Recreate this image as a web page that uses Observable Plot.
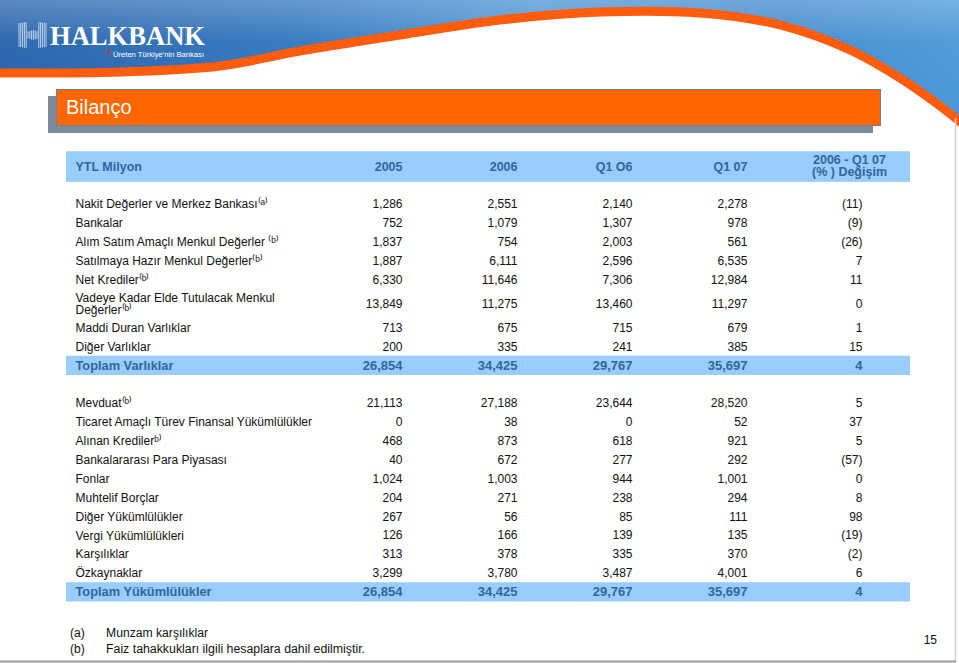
<!DOCTYPE html>
<html>
<head>
<meta charset="utf-8">
<script src="https://cdn.jsdelivr.net/npm/d3@7"></script>
<script src="https://cdn.jsdelivr.net/npm/@observablehq/plot@0.6"></script>
<style>
html, body { margin: 0; padding: 0; background: #fff; }
#page { position: relative; width: 959px; height: 663px; overflow: hidden; background: #fff;
  font-family: "Liberation Sans", Arial, sans-serif; }
#deco { position: absolute; left: 0; top: 0; }
#title { position: absolute; left: 56px; top: 89px; width: 825px; height: 37px; box-sizing: border-box;
  background: #ff6600; border: 1px solid #70808f; box-shadow: -8px 7px 0 #7d8a97;
  color: #fff; font-size: 20px; line-height: 35px; padding-left: 9px; }
#table { position: absolute; left: 0; top: 140px; }
</style>
</head>
<body>
<div id="page">
  <div id="deco"></div>
  <div id="title">Bilanço</div>
  <div id="table"></div>
</div>
<script>
// ---------------- data ----------------
const columns = ["2005", "2006", "Q1 O6", "Q1 07"];
const changeHeader = "2006 - Q1 07\n(% ) Değişim";
const unitLabel = "YTL Milyon";

const assetItems = [
  "Nakit Değerler ve Merkez Bankası",
  "Bankalar",
  "Alım Satım Amaçlı Menkul Değerler",
  "Satılmaya Hazır Menkul Değerler",
  "Net Krediler",
  "Vadeye Kadar Elde Tutulacak Menkul\nDeğerler",
  "Maddi Duran Varlıklar",
  "Diğer Varlıklar"
];
const assetNotes = ["(a)", "", " (b)", "(b)", "(b)", "(b)", "", ""];
const assets2005 = [1286, 752, 1837, 1887, 6330, 13849, 713, 200];
const assets2006 = [2551, 1079, 754, 6111, 11646, 11275, 675, 335];
const assetsQ106 = [2140, 1307, 2003, 2596, 7306, 13460, 715, 241];
const assetsQ107 = [2278, 978, 561, 6535, 12984, 11297, 679, 385];
const assetsChange = [-11, -9, -26, 7, 11, 0, 1, 15];
const assetsTotalLabel = "Toplam Varlıklar";
const assetsTotal = [26854, 34425, 29767, 35697];
const assetsTotalChange = 4;

const liabilityItems = [
  "Mevduat",
  "Ticaret Amaçlı Türev Finansal Yükümlülükler",
  "Alınan Krediler",
  "Bankalararası Para Piyasası",
  "Fonlar",
  "Muhtelif Borçlar",
  "Diğer Yükümlülükler",
  "Vergi Yükümlülükleri",
  "Karşılıklar",
  "Özkaynaklar"
];
const liabilityNotes = ["(b)", "", "b)", "", "", "", "", "", "", ""];
const liab2005 = [21113, 0, 468, 40, 1024, 204, 267, 126, 313, 3299];
const liab2006 = [27188, 38, 873, 672, 1003, 271, 56, 166, 378, 3780];
const liabQ106 = [23644, 0, 618, 277, 944, 238, 85, 139, 335, 3487];
const liabQ107 = [28520, 52, 921, 292, 1001, 294, 111, 135, 370, 4001];
const liabChange = [5, 37, 5, -57, 0, 8, 98, -19, -2, 6];
const liabTotalLabel = "Toplam Yükümlülükler";
const liabTotal = [26854, 34425, 29767, 35697];
const liabTotalChange = 4;

const footnoteMarks = ["(a)", "(b)"];
const footnoteTexts = ["Munzam karşılıklar", "Faiz tahakkukları ilgili  hesaplara dahil edilmiştir."];
const pageNumber = "15";

// ---------------- build table rows ----------------
const fmt = d3.format(",");
const fmtChg = v => v < 0 ? `(${-v})` : String(v);
const colKeys = [...columns, "chg"];
const supMap = {"(": "\u207D", ")": "\u207E", "a": "\u1D43", "b": "\u1D47", " ": " "};
const sup = s => Array.from(s).map(c => supMap[c] ?? c).join("");

const rows = [];
rows.push({kind: "header", label: unitLabel, h: 1});
rows.push({kind: "spacer", h: 1});
function addSection(items, notes, series, chg, totalLabel, totalVals, totalChg) {
  items.forEach((label, i) => rows.push({
    kind: "item", label: label + sup(notes[i]),
    vals: series.map(s => s[i]), chg: chg[i],
    h: label.includes("\n") ? 1.55 : 1
  }));
  rows.push({kind: "total", label: totalLabel, vals: totalVals, chg: totalChg, h: 1});
}
addSection(assetItems, assetNotes, [assets2005, assets2006, assetsQ106, assetsQ107], assetsChange,
  assetsTotalLabel, assetsTotal, assetsTotalChange);
rows.push({kind: "spacer", h: 1});
addSection(liabilityItems, liabilityNotes, [liab2005, liab2006, liabQ106, liabQ107], liabChange,
  liabTotalLabel, liabTotal, liabTotalChange);

let u = 0;
rows.forEach((r, i) => { if (i > 0) u += rows[i - 1].h / 2 + r.h / 2; r.u = u; });
const uMax = u;

const cells = [];
rows.filter(r => r.kind === "item" || r.kind === "total").forEach(r => {
  r.vals.forEach((v, j) => cells.push({u: r.u, col: columns[j], text: fmt(v), kind: r.kind}));
  cells.push({u: r.u, col: "chg", text: fmtChg(r.chg), kind: r.kind});
});
const headerRow = rows[0];
const headerCells = columns.map(c => ({u: headerRow.u, col: c, text: c}));

const blue = "#336699";
const band = "#99ccff";

const plot = Plot.plot({
  width: 959,
  height: 470,
  marginLeft: 66,
  marginRight: 49,
  marginTop: 0,
  marginBottom: 0,
  style: {background: "transparent", fontFamily: "'Liberation Sans', Arial, sans-serif", overflow: "visible"},
  x: {type: "point", domain: colKeys, range: [401, 862], padding: 0, axis: null},
  y: {domain: [0, uMax], range: [26, 451.7], axis: null},
  marks: [
    Plot.rect([headerRow], {y1: d => d.u - 0.78, y2: d => d.u + 0.84, fill: band}),
    Plot.rect(rows.filter(r => r.kind === "total"), {y1: d => d.u - 0.5, y2: d => d.u + 0.52, fill: band}),
    // header
    Plot.text([headerRow], {y: "u", text: "label", frameAnchor: "left", dx: 9, textAnchor: "start",
      fontSize: 12.5, fontWeight: "bold", fill: blue}),
    Plot.text(headerCells, {x: "col", y: "u", text: "text", textAnchor: "end",
      fontSize: 12.5, fontWeight: "bold", fill: blue}),
    Plot.text([{u: headerRow.u, col: "chg", text: changeHeader}], {x: "col", y: "u", text: "text",
      textAnchor: "middle", dx: -13, lineHeight: 0.97, fontSize: 12.5, fontWeight: "bold", fill: blue}),
    // item labels (with superscript notes)
    Plot.text(rows.filter(r => r.kind === "item"), {y: "u", text: "label", frameAnchor: "left", dx: 9,
      textAnchor: "start", lineAnchor: "middle", lineHeight: 1.03, fontSize: 12, fill: "#111"}),
    Plot.text(rows.filter(r => r.kind === "total"), {y: "u", text: "label", frameAnchor: "left", dx: 9,
      textAnchor: "start", fontSize: 12.8, fontWeight: "bold", fill: blue}),
    // values
    Plot.text(cells.filter(c => c.kind === "item"), {x: "col", y: "u", text: "text", textAnchor: "end",
      fontSize: 12, fill: "#111"}),
    Plot.text(cells.filter(c => c.kind === "total"), {x: "col", y: "u", text: "text", textAnchor: "end",
      fontSize: 13, fontWeight: "bold", fill: blue})
  ]
});
document.getElementById("table").appendChild(plot);

// ---------------- decoration: banner, frame, footnotes ----------------
const deco = d3.select("#deco").append("svg").attr("width", 959).attr("height", 663)
  .style("display", "block");
const defs = deco.append("defs");
const g1 = defs.append("linearGradient").attr("id", "bg1").attr("x1", 0).attr("x2", 1).attr("y1", 0).attr("y2", 0);
[[0, "#2460aa"], [0.3, "#2f74bd"], [0.55, "#4b93d3"], [0.8, "#3f88cd"], [1, "#4a98d8"]]
  .forEach(([o, c]) => g1.append("stop").attr("offset", o).attr("stop-color", c));
const g2 = defs.append("linearGradient").attr("id", "bg2").attr("x1", 0).attr("x2", 0).attr("y1", 0).attr("y2", 1);
[[0, "#ffffff", 0.28], [0.35, "#ffffff", 0.05], [1, "#ffffff", 0]]
  .forEach(([o, c, a]) => g2.append("stop").attr("offset", o).attr("stop-color", c).attr("stop-opacity", a));

const arc = [[-5, 73], [120, 72], [220, 66], [300, 51], [400, 35], [500, 20], [600, 12], [700, 13],
  [780, 25], [850, 50], [903, 80], [940, 106], [970, 130]];
const line = d3.line().curve(d3.curveCatmullRom);
const arcPath = line(arc);
deco.append("path").attr("d", arcPath + "L970,-5L-5,-5Z").attr("fill", "url(#bg1)");
deco.append("path").attr("d", arcPath + "L970,-5L-5,-5Z").attr("fill", "url(#bg2)");
deco.append("path").attr("d", arcPath).attr("fill", "none").attr("stroke", "#ff5c0e").attr("stroke-width", 9);

// logo icon (striped H)
const icon = deco.append("g").attr("stroke", "#e8f2fb").attr("stroke-width", 0.9).attr("opacity", 0.85);
for (let x = 19; x <= 47; x += 1.8) {
  const mid = x > 28 && x < 38;
  icon.append("line").attr("x1", x).attr("x2", x)
    .attr("y1", mid ? 30 + Math.abs(x - 33) * 0.3 : 21 + Math.abs(x - 33) * 0.15)
    .attr("y2", mid ? 40 - Math.abs(x - 33) * 0.3 : 49 - Math.abs(x - 33) * 0.15);
}
deco.append("text").attr("x", 50).attr("y", 45).text("HALKBANK")
  .attr("font-family", "'Liberation Serif', 'DejaVu Serif', serif").attr("font-weight", "bold")
  .attr("font-size", 28).attr("fill", "#ffffff").attr("textLength", 155).attr("lengthAdjust", "spacingAndGlyphs");
deco.append("rect").attr("x", 107).attr("y", 51).attr("width", 3).attr("height", 3).attr("fill", "#e8321e");
deco.append("text").attr("x", 113).attr("y", 57).text("Üreten Türkiye'nin Bankası")
  .attr("font-family", "'Liberation Sans', Arial, sans-serif").attr("font-size", 7.5)
  .attr("fill", "#ffffff").attr("textLength", 91).attr("lengthAdjust", "spacingAndGlyphs");

// frame lines
deco.append("line").attr("x1", 955.5).attr("x2", 955.5).attr("y1", 118).attr("y2", 662)
  .attr("stroke", "#d4d4d4").attr("stroke-width", 1.5);
deco.append("line").attr("x1", 0).attr("x2", 956).attr("y1", 661.5).attr("y2", 661.5)
  .attr("stroke", "#9a9a9a").attr("stroke-width", 2);

// footnotes
const fn = deco.append("g").attr("font-family", "'Liberation Sans Narrow', 'Liberation Sans', Arial, sans-serif")
  .attr("font-size", 12).attr("fill", "#111").style("white-space", "pre");
const fnWidths = [102, 259];
footnoteMarks.forEach((m, i) => {
  fn.append("text").attr("x", 70).attr("y", 637 + i * 16).text(m);
  fn.append("text").attr("x", 106).attr("y", 637 + i * 16).text(footnoteTexts[i])
    .attr("textLength", fnWidths[i]).attr("lengthAdjust", "spacingAndGlyphs");
});
fn.append("text").attr("x", 937).attr("y", 644).attr("text-anchor", "end").text(pageNumber);
</script>
</body>
</html>
